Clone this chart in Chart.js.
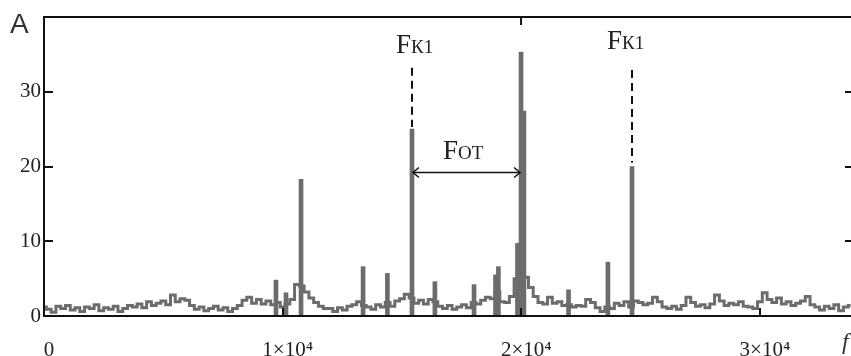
<!DOCTYPE html>
<html>
<head>
<meta charset="utf-8">
<script src="https://cdn.jsdelivr.net/npm/chart.js@4/dist/chart.umd.min.js"></script>
<style>
  html, body { margin: 0; padding: 0; background: #fff; overflow: hidden; }
  #wrap { width: 860px; height: 356px; }
</style>
</head>
<body>
<div id="wrap"><canvas id="c" width="860" height="356"></canvas></div>
<script>
// ---- data ----
const binHz = 200;
const floorAmp = [
  1.2, 0.9, 0.5, 1.3, 1.0, 1.4, 0.8, 1.1, 0.6, 1.2,
  1.0, 1.5, 0.7, 1.1, 0.9, 1.3, 0.6, 1.0, 1.4, 1.2,
  1.6, 1.1, 1.9, 1.4, 1.7, 2.0, 1.5, 2.8, 1.9, 2.3,
  2.1, 1.4, 0.9, 1.2, 0.7, 1.0, 1.3, 0.8, 1.1, 0.6,
  1.0, 1.4, 2.1, 2.5, 1.7, 2.2, 1.6, 2.0, 1.5, 1.8,
  1.2, 1.6, 2.2, 4.2, 4.0, 3.2, 2.4, 1.8, 1.3, 1.0,
  1.0, 0.6, 1.1, 0.8, 1.3, 1.5, 1.9, 1.4, 1.2, 0.9,
  1.5, 1.2, 1.8, 1.3, 2.0, 2.3, 2.9, 2.4, 1.7, 2.1,
  1.6, 2.2, 1.9, 1.3, 1.0, 1.4, 0.9, 1.2, 1.5, 1.1,
  1.8, 1.6, 2.1, 2.5, 2.3, 3.2, 1.9, 1.8, 2.6, 5.0,
  9.6, 5.2, 3.8, 2.6, 1.8, 1.6, 2.5, 1.7, 1.9, 1.4,
  1.5, 1.2, 1.4, 1.3, 2.2, 1.8, 1.1, 0.6, 1.2, 1.0,
  1.7, 1.4, 1.9, 1.2, 2.0, 1.8, 1.5, 1.7, 2.5, 1.9,
  1.2, 1.0, 1.3, 0.9, 1.4, 2.5, 1.8, 1.3, 1.5, 1.1,
  1.6, 2.8, 2.0, 1.4, 1.7, 1.5, 1.9, 1.3, 1.2, 1.0,
  1.9, 3.1, 2.2, 1.8, 2.4, 1.6, 1.9, 1.4, 1.7, 2.0,
  2.6, 1.5, 1.2, 0.8, 1.3, 1.0, 1.5, 0.7, 1.2, 1.4
];
const floorFreq = floorAmp.map((_, i) => i * binHz);

const peakFreq = [9720, 10140, 10770, 13370, 14390, 15420, 16380, 18020, 18920, 19040, 19840, 19990, 20110, 21980, 23630, 24640];
const peakAmp  = [4.8,  3.1,   18.3,  6.6,   5.7,   25.0,  4.6,   4.2,   5.5,   6.6,   9.7,   35.3,  27.4,  3.5,   7.2,   20.0];

const xTicks = [0, 10000, 20000, 30000];
const xTickLabels = ['0', '1×10⁴', '2×10⁴', '3×10⁴'];
const yTicks = [0, 10, 20, 30];

// annotation anchors (frequencies of marked components)
const fK1a = 15420, fK1b = 24640, fMain = 19990;

const GRAY = '#6c6c6c';
const INK = '#111';

const decor = {
  id: 'decor',
  afterDatasetsDraw(chart) {
    const { ctx, chartArea: a, scales: { x, y } } = chart;
    ctx.save();
    ctx.strokeStyle = INK;
    ctx.lineWidth = 2;
    const seg = (x1, y1, x2, y2) => { ctx.beginPath(); ctx.moveTo(x1, y1); ctx.lineTo(x2, y2); ctx.stroke(); };
    // frame
    seg(a.left - 1, a.top, a.right, a.top);
    seg(a.left, a.top - 1, a.left, a.bottom + 1);
    seg(a.left - 1, a.bottom, a.right, a.bottom);
    seg(a.right, a.top, a.right, a.bottom);
    // inward ticks
    yTicks.slice(1).forEach(v => {
      const py = Math.round(y.getPixelForValue(v));
      seg(a.left, py, a.left + 9, py);
      seg(a.right - 8, py, a.right, py);
    });
    xTicks.slice(1).forEach(v => {
      const px = Math.round(x.getPixelForValue(v));
      seg(px, a.bottom, px, a.bottom - 8);
    });

    // dashed markers
    ctx.lineWidth = 2;
    ctx.setLineDash([8, 5]);
    seg(x.getPixelForValue(fK1a), y.getPixelForValue(33.2), x.getPixelForValue(fK1a), y.getPixelForValue(25.3));
    seg(x.getPixelForValue(fK1b), y.getPixelForValue(32.9), x.getPixelForValue(fK1b), y.getPixelForValue(20.5));
    seg(x.getPixelForValue(fMain), y.getPixelForValue(40), x.getPixelForValue(fMain), y.getPixelForValue(38.7));
    ctx.setLineDash([]);

    // double arrow
    ctx.lineWidth = 1.5;
    const ay = y.getPixelForValue(19.2);
    const ax1 = x.getPixelForValue(fK1a) + 1, ax2 = x.getPixelForValue(fMain) - 1;
    seg(ax1, ay, ax2, ay);
    ctx.beginPath(); ctx.moveTo(ax1 + 6, ay - 5); ctx.lineTo(ax1, ay); ctx.lineTo(ax1 + 6, ay + 5); ctx.stroke();
    ctx.beginPath(); ctx.moveTo(ax2 - 6, ay - 5); ctx.lineTo(ax2, ay); ctx.lineTo(ax2 - 6, ay + 5); ctx.stroke();

    // labels
    ctx.fillStyle = '#222';
    ctx.textBaseline = 'alphabetic';
    ctx.textAlign = 'left';
    const fLabel = (px, py, sub) => {
      ctx.font = '27px "Liberation Serif"';
      ctx.fillText('F', px, py);
      const w = ctx.measureText('F').width;
      ctx.font = '19px "Liberation Serif"';
      ctx.fillText(sub, px + w, py);
    };
    fLabel(x.getPixelForValue(fK1a) - 16, y.getPixelForValue(35.2), 'К1');
    fLabel(x.getPixelForValue(fK1b) - 25, y.getPixelForValue(35.7), 'К1');
    fLabel(x.getPixelForValue(16720), y.getPixelForValue(21.0), 'ОТ');

    // axis names
    ctx.fillStyle = '#333';
    ctx.font = '28px "Liberation Sans"';
    ctx.fillText('A', 10, 33);
    ctx.font = 'italic 24px "Liberation Serif"';
    ctx.fillText('f', 842, 349);
    ctx.restore();
  }
};

new Chart(document.getElementById('c'), {
  type: 'line',
  data: {
    datasets: [
      {
        type: 'line',
        data: floorFreq.map((f, i) => ({ x: f, y: floorAmp[i] })),
        borderColor: GRAY,
        borderWidth: 3,
        pointRadius: 0,
        stepped: 'middle',
        fill: false,
        order: 2
      },
      {
        type: 'bar',
        data: peakFreq.map((f, i) => ({ x: f, y: peakAmp[i] })),
        backgroundColor: GRAY,
        borderWidth: 0,
        barThickness: 4,
        grouped: false,
        order: 1
      }
    ]
  },
  options: {
    responsive: false,
    devicePixelRatio: 1,
    animation: false,
    layout: { padding: { top: 17, right: 7, left: 0, bottom: 0 } },
    plugins: { legend: { display: false }, tooltip: { enabled: false } },
    scales: {
      x: {
        type: 'linear',
        min: 0,
        max: 33900,
        offset: false,
        grid: { display: false, drawTicks: false, offset: false },
        border: { display: false },
        afterFit: s => { s.height = 40; },
        afterBuildTicks: s => { s.ticks = xTicks.map(v => ({ value: v })); },
        ticks: {
          padding: 22,
          labelOffset: 5,
          maxRotation: 0,
          autoSkip: false,
          color: '#222',
          font: { family: '"Liberation Serif"', size: 21 },
          callback: v => { const k = xTicks.indexOf(v); return k >= 0 ? xTickLabels[k] : ''; }
        }
      },
      y: {
        min: 0,
        max: 40,
        grid: { display: false, drawTicks: false },
        border: { display: false },
        afterFit: s => { s.width = 44; },
        afterBuildTicks: s => { s.ticks = yTicks.map(v => ({ value: v })); },
        ticks: {
          padding: 3,
          color: '#222',
          font: { family: '"Liberation Serif"', size: 21 },
          callback: v => String(v)
        }
      }
    }
  },
  plugins: [decor]
});
</script>
</body>
</html>
